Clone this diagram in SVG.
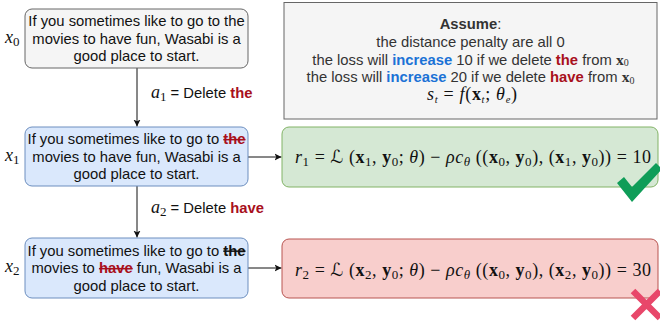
<svg xmlns="http://www.w3.org/2000/svg" width="660" height="328" viewBox="0 0 660 328">
<style>
.t{font-family:"Liberation Sans",Arial,sans-serif;font-size:14.8px;fill:#111;text-anchor:middle}
.g{fill:#333}
.lbl{font-family:"Liberation Sans",Arial,sans-serif;font-size:14.8px;fill:#111}
.m{font-family:"Liberation Serif","DejaVu Serif",serif;font-size:18px;fill:#111}
.i{font-style:italic}
.b{font-weight:bold}
.s{font-size:13px}
.ss{font-size:10.5px}
.L{font-family:"DejaVu Serif","DejaVu Sans",serif;font-style:italic}
.red{fill:#a8101c;font-weight:bold}
.blue{fill:#1b72d6;font-weight:bold}
.strike{text-decoration:line-through;font-weight:bold}
.gray{fill:#f5f5f5;stroke:#666;stroke-width:1}
.blueBox{fill:#dae8fc;stroke:#6c8ebf;stroke-width:1}
.green{fill:#d5e8d4;stroke:#82b366;stroke-width:1}
.pink{fill:#f8cecc;stroke:#b85450;stroke-width:1}
.c{stroke:#111;stroke-width:1;fill:none}
</style>
<defs>
<marker id="arr" markerWidth="8" markerHeight="8" refX="7" refY="4" orient="auto" markerUnits="userSpaceOnUse">
<path d="M0,0.5 L7,4 L0,7.5 L1.8,4 z" fill="#111"/>
</marker>
</defs>

<g id="connectors">
<line class="c" x1="137" y1="68" x2="137" y2="126.5" marker-end="url(#arr)"/>
<line class="c" x1="137" y1="186" x2="137" y2="237.5" marker-end="url(#arr)"/>
<line class="c" x1="248" y1="157" x2="281.5" y2="157" marker-end="url(#arr)"/>
<line class="c" x1="248" y1="268" x2="281.5" y2="268" marker-end="url(#arr)"/>
<text class="lbl" x="151" y="98"><tspan class="m i">a</tspan><tspan class="m s" dy="3">1</tspan><tspan dy="-3"> = Delete </tspan><tspan class="red">the</tspan></text>
<text class="lbl" x="151" y="213"><tspan class="m i">a</tspan><tspan class="m s" dy="3">2</tspan><tspan dy="-3"> = Delete </tspan><tspan class="red">have</tspan></text>
</g>

<g id="node-x0">
<rect class="gray" x="25" y="9" width="223" height="59" rx="7"/>
<text class="t" x="136.5" y="26">If you sometimes like to go to the</text>
<text class="t" x="136.5" y="43.5">movies to have fun, Wasabi is a</text>
<text class="t" x="136.5" y="61">good place to start.</text>
<text class="m" x="5" y="43"><tspan class="i">x</tspan><tspan class="s" dy="3">0</tspan></text>
</g>

<g id="node-x1">
<rect class="blueBox" x="25" y="127" width="223" height="59" rx="7"/>
<text class="t" x="136.5" y="144">If you sometimes like to go to <tspan class="red strike">the</tspan></text>
<text class="t" x="136.5" y="161.5">movies to have fun, Wasabi is a</text>
<text class="t" x="136.5" y="179">good place to start.</text>
<text class="m" x="5" y="161"><tspan class="i">x</tspan><tspan class="s" dy="3">1</tspan></text>
</g>

<g id="node-x2">
<rect class="blueBox" x="25" y="238" width="223" height="60" rx="7"/>
<text class="t" x="136.5" y="255.5">If you sometimes like to go to <tspan class="strike">the</tspan></text>
<text class="t" x="136.5" y="273">movies to <tspan class="red strike">have</tspan> fun, Wasabi is a</text>
<text class="t" x="136.5" y="290.5">good place to start.</text>
<text class="m" x="5" y="272"><tspan class="i">x</tspan><tspan class="s" dy="3">2</tspan></text>
</g>

<g id="node-assume">
<rect class="gray" x="284" y="2.5" width="373" height="116.5"/>
<text class="t g" x="470.5" y="29"><tspan class="b">Assume</tspan>:</text>
<text class="t g" x="470.5" y="47">the distance penalty are all 0</text>
<text class="t g" x="470.5" y="64.5">the loss will <tspan class="blue">increase</tspan> 10 if we delete <tspan class="red">the</tspan> from <tspan class="b" font-family="Liberation Serif, serif" font-size="15.5px">x</tspan><tspan font-family="Liberation Serif, serif" font-size="10px" dy="1.5">0</tspan></text>
<text class="t g" x="470.5" y="82">the loss will <tspan class="blue">increase</tspan> 20 if we delete <tspan class="red">have</tspan> from <tspan class="b" font-family="Liberation Serif, serif" font-size="15.5px">x</tspan><tspan font-family="Liberation Serif, serif" font-size="10px" dy="1.5">0</tspan></text>
<text class="m g" x="472" y="100" text-anchor="middle" textLength="90" lengthAdjust="spacing"><tspan class="i">s</tspan><tspan class="ss i" dy="2.5">t</tspan><tspan dy="-2.5"> = </tspan><tspan class="i">f</tspan>(<tspan class="b">x</tspan><tspan class="ss i" dy="2.5">t</tspan><tspan dy="-2.5">; </tspan><tspan class="i">θ</tspan><tspan class="ss i" dy="2.5">e</tspan><tspan dy="-2.5">)</tspan></text>
</g>

<g id="node-r1">
<rect class="green" x="282" y="127" width="376" height="60" rx="7"/>
<text class="m" x="295" y="163" textLength="356" lengthAdjust="spacing"><tspan class="i">r</tspan><tspan class="s" dy="3">1</tspan><tspan dy="-3"> = </tspan><tspan class="L">ℒ</tspan> (<tspan class="b">x</tspan><tspan class="s" dy="3">1</tspan><tspan dy="-3">, </tspan><tspan class="b">y</tspan><tspan class="s" dy="3">0</tspan><tspan dy="-3">; </tspan><tspan class="i">θ</tspan>) − <tspan class="i">ρc</tspan><tspan class="s i" dy="3">θ</tspan><tspan dy="-3"> ((</tspan><tspan class="b">x</tspan><tspan class="s" dy="3">0</tspan><tspan dy="-3">, </tspan><tspan class="b">y</tspan><tspan class="s" dy="3">0</tspan><tspan dy="-3">), (</tspan><tspan class="b">x</tspan><tspan class="s" dy="3">1</tspan><tspan dy="-3">, </tspan><tspan class="b">y</tspan><tspan class="s" dy="3">0</tspan><tspan dy="-3">)) = 10</tspan></text>
<path d="M617,183 L624,177 L632,187 L656,163 L662,169 L632,202 z" fill="#0f9d58"/>
</g>

<g id="node-r2">
<rect class="pink" x="282" y="239" width="376" height="59" rx="7"/>
<text class="m" x="295" y="275.5" textLength="356" lengthAdjust="spacing"><tspan class="i">r</tspan><tspan class="s" dy="3">2</tspan><tspan dy="-3"> = </tspan><tspan class="L">ℒ</tspan> (<tspan class="b">x</tspan><tspan class="s" dy="3">2</tspan><tspan dy="-3">, </tspan><tspan class="b">y</tspan><tspan class="s" dy="3">0</tspan><tspan dy="-3">; </tspan><tspan class="i">θ</tspan>) − <tspan class="i">ρc</tspan><tspan class="s i" dy="3">θ</tspan><tspan dy="-3"> ((</tspan><tspan class="b">x</tspan><tspan class="s" dy="3">0</tspan><tspan dy="-3">, </tspan><tspan class="b">y</tspan><tspan class="s" dy="3">0</tspan><tspan dy="-3">), (</tspan><tspan class="b">x</tspan><tspan class="s" dy="3">2</tspan><tspan dy="-3">, </tspan><tspan class="b">y</tspan><tspan class="s" dy="3">0</tspan><tspan dy="-3">)) = 30</tspan></text>
<path d="M633,291 L660,318 M660,291 L633,318" stroke="#e8476a" stroke-width="6.5" fill="none"/>
</g>
</svg>
